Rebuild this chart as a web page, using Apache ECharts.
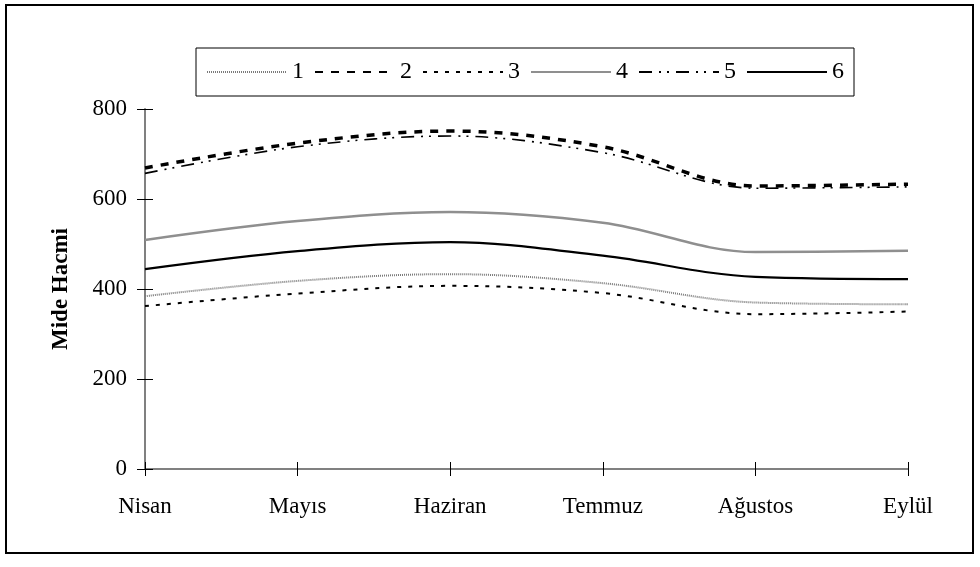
<!DOCTYPE html>
<html>
<head>
<meta charset="utf-8">
<script src="https://cdn.jsdelivr.net/npm/echarts@6/dist/echarts.min.js"></script>
<style>
  html, body { margin: 0; padding: 0; background: #fff; }
  #chart { width: 980px; height: 567px; }
</style>
</head>
<body>
<div id="chart"></div>
<script>
// Months on the x axis
const months = ['Nisan', 'Mayıs', 'Haziran', 'Temmuz', 'Ağustos', 'Eylül'];

// Stomach volume per group, one array per series
const s1 = [384, 418, 433, 413, 370, 366];
const s2 = [669, 724, 751, 716, 629, 633];
const s3 = [362, 390, 407, 391, 344, 350];
const s4 = [509, 551, 571, 547, 482, 485];
const s5 = [657, 716, 740, 703, 624, 627];
const s6 = [444, 484, 504, 474, 427, 422];

const seriesNames = ['1', '2', '3', '4', '5', '6'];
const seriesData = [s1, s2, s3, s4, s5, s6];

const yTitle = 'Mide Hacmi';

const FONT = '"Liberation Serif", "Times New Roman", serif';

const lineStyles = [
  { color: '#7a7a7a', width: 2, type: [1, 1] },
  { color: '#000', width: 3.5, type: [8, 8] },
  { color: '#000', width: 2, type: [4, 7] },
  { color: '#8f8f8f', width: 2.5, type: 'solid' },
  { color: '#000', width: 1.6, type: [13, 7, 2, 6, 2, 7] },
  { color: '#000', width: 2.2, type: 'solid' }
];

const chart = echarts.init(document.getElementById('chart'), null, { renderer: 'canvas' });

const gridBox = { left: 145, right: 72, top: 109, bottom: 98 };

chart.setOption({
  animation: false,
  backgroundColor: '#fff',
  graphic: [{
    type: 'rect',
    shape: { x: 6, y: 5, width: 967, height: 548 },
    style: { fill: 'none', stroke: '#000', lineWidth: 2 },
    silent: true
  }],
  legend: {
    left: 196,
    top: 48,
    padding: [12, 10, 12, 10],
    itemWidth: 80,
    itemHeight: 20,
    itemGap: 10,
    borderColor: '#000',
    borderWidth: 1,
    itemStyle: { color: 'transparent', borderWidth: 0, opacity: 0 },
    textStyle: { fontFamily: FONT, fontSize: 24, color: '#000' },
    data: seriesNames
  },
  grid: gridBox,
  xAxis: [{
    type: 'category',
    data: months,
    boundaryGap: false,
    axisLine: { lineStyle: { color: '#808080', width: 2 } },
    axisTick: { show: true, length: 7, lineStyle: { color: '#000', width: 1 } },
    axisLabel: { color: '#000', fontFamily: FONT, fontSize: 23, margin: 26 },
    splitLine: { show: false }
  }, {
    type: 'category',
    data: months,
    boundaryGap: false,
    position: 'bottom',
    axisLine: { show: false },
    axisTick: { show: true, inside: true, length: 7, lineStyle: { color: '#000', width: 1 } },
    axisLabel: { show: false },
    splitLine: { show: false }
  }],
  yAxis: [{
    type: 'value',
    min: 0,
    max: 800,
    interval: 200,
    name: yTitle,
    nameLocation: 'middle',
    nameGap: 72,
    nameRotate: 90,
    nameTextStyle: { fontFamily: FONT, fontSize: 23, fontWeight: 'bold', color: '#000' },
    axisLine: { show: true, lineStyle: { color: '#808080', width: 2 } },
    axisTick: { show: true, length: 8, lineStyle: { color: '#000', width: 1 } },
    axisLabel: { color: '#000', fontFamily: FONT, fontSize: 23, margin: 18 },
    splitLine: { show: false }
  }, {
    type: 'value',
    min: 0,
    max: 800,
    interval: 200,
    position: 'left',
    axisLine: { show: false },
    axisTick: { show: true, inside: true, length: 8, lineStyle: { color: '#000', width: 1 } },
    axisLabel: { show: false },
    splitLine: { show: false }
  }],
  series: seriesNames.map((name, i) => ({
    name: name,
    type: 'line',
    xAxisIndex: 0,
    yAxisIndex: 0,
    data: seriesData[i],
    smooth: 0.35,
    symbol: 'none',
    showSymbol: false,
    lineStyle: lineStyles[i],
    itemStyle: { color: lineStyles[i].color },
    z: i === 1 ? 3 : 2
  }))
});
</script>
</body>
</html>
